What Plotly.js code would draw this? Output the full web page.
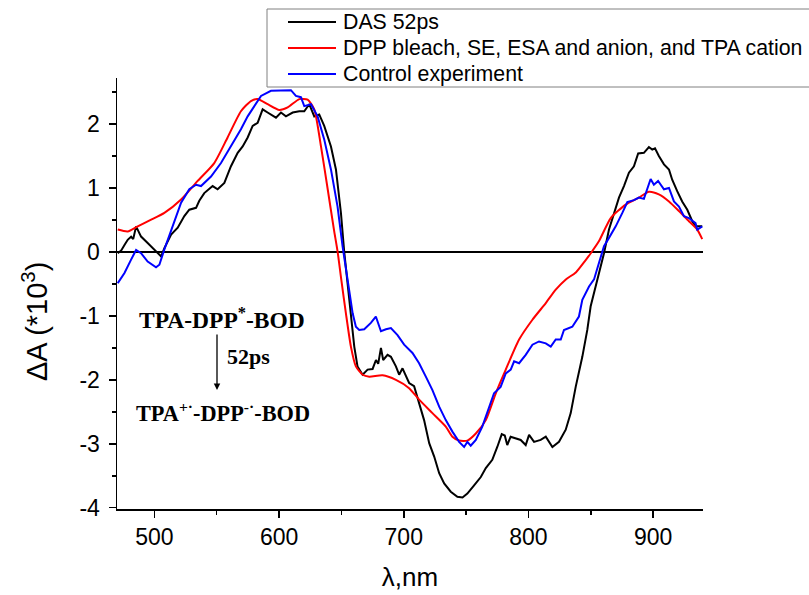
<!DOCTYPE html>
<html>
<head>
<meta charset="utf-8">
<script src="https://cdn.plot.ly/plotly-3.0.1.min.js"></script>
<style>html,body{margin:0;padding:0;background:#fff;}#chart{width:809px;height:595px;}</style>
</head>
<body>
<div id="chart"></div>
<script>
// ---- Data ----
const seriesNames = ["DAS 52ps", "DPP bleach, SE, ESA and anion, and TPA cation", "Control experiment"];

const dasX = [470.6,473.3,476,478.6,481.3,483,485.3,489.3,494.6,500,505.4,508,513.4,518.7,524,528,533.4,536,540,546.7,550.7,556.1,561.4,566.8,570.8,574.8,578.8,582.8,586.8,590.8,597.5,601.5,605.5,610.9,616.2,620.2,624.2,628.2,632.2,636.2,641.6,645.6,649.6,652.2,656.3,657.6,660.3,662.9,667,671,675,677.7,679.5,681.7,683.5,687,689.7,693.7,696.3,699,704.3,708.3,712.3,716.3,720.4,724.4,728.4,732.4,737.7,743,747.1,751,756.4,761.8,765.8,771,775,778.6,781,783,785.7,789.8,793.8,797.8,800.5,804.5,809.8,813.9,819.2,824.5,829.9,833.9,837.9,843.2,847.2,849.9,855.2,860.6,864.6,868.6,872.6,876.6,880.6,884.6,888,892.6,896.6,899.3,901.5,904.6,908.7,912.7,915.3,919.3,923.3,927.4,931.4,934,939.4];
const dasY = [-0.02,0.02,0.11,0.19,0.24,0.20,0.40,0.24,0.14,0.04,-0.07,0.06,0.27,0.38,0.56,0.66,0.69,0.80,0.92,1.03,0.98,1.08,1.34,1.55,1.65,1.79,1.97,2.02,2.23,2.18,2.10,2.18,2.12,2.18,2.20,2.20,2.31,2.12,2.15,1.97,1.65,1.29,0.61,0.01,-0.70,-0.96,-1.48,-1.79,-1.92,-1.84,-1.83,-1.69,-1.75,-1.50,-1.69,-1.61,-1.64,-1.79,-1.92,-1.82,-2.05,-2.10,-2.37,-2.63,-2.99,-3.20,-3.46,-3.62,-3.75,-3.83,-3.84,-3.78,-3.65,-3.52,-3.38,-3.25,-3.05,-2.85,-2.87,-3.02,-2.89,-2.91,-2.94,-3.02,-2.86,-2.97,-2.94,-2.89,-3.05,-2.97,-2.78,-2.52,-2.11,-1.64,-1.22,-0.85,-0.43,-0.02,0.35,0.61,0.85,1.03,1.24,1.34,1.54,1.55,1.64,1.60,1.62,1.50,1.37,1.29,1.13,0.95,0.79,0.66,0.48,0.40,0.40];

const dppX = [470.6,478.6,486.6,497,508,521.4,534.7,548,558.7,569.4,577.4,582.8,590.8,600.2,606.9,616.2,622.9,628.2,633.6,639,644,646.9,650,653.6,657.6,661.6,667,672.3,683,693.7,704.3,712.3,723,733.7,739,744.4,751,757.8,765.8,773.8,781.8,792.5,803.2,813.9,821.9,830,838,845,850,856.6,866,878,888.6,896.6,904.6,912.7,920.7,928.7,935.4,939.4];
const dppY = [0.35,0.32,0.40,0.50,0.61,0.82,1.11,1.39,1.79,2.20,2.36,2.39,2.31,2.22,2.26,2.39,2.38,2.23,1.65,0.98,0.35,0.01,-0.45,-0.96,-1.48,-1.79,-1.92,-1.95,-1.93,-2.00,-2.13,-2.31,-2.52,-2.73,-2.89,-2.95,-2.95,-2.84,-2.63,-2.21,-1.84,-1.37,-1.06,-0.80,-0.59,-0.43,-0.32,-0.15,-0.02,0.17,0.53,0.74,0.85,0.94,0.90,0.79,0.64,0.48,0.35,0.20];

const ctrlX = [470.6,476,481.3,485.3,489.3,494.6,501.3,504,508,514.7,521.4,528,533.4,537.4,545.4,553.4,561.4,569.4,574.8,580.1,585.5,593.5,601.5,609.5,613.5,617.5,620.2,625.6,630.9,636.2,641.6,646.9,650.9,656.3,659,661.6,664.3,668.3,673.6,677.6,681.7,685.7,689.7,695,700.3,707,712.3,717.7,723,728.4,733.7,739,744.4,748.4,751,753.7,757.8,763,768.4,772.4,777.7,781.8,785.8,788.5,792.5,797.8,803.2,808.5,813.9,817.9,821.9,825.9,828.5,831.2,835.2,840.5,843.2,848.6,852.6,856.6,860.6,864.6,870,875.3,879.3,884.6,888.6,892.6,895.3,898,900.6,904,908.7,912.7,916.7,920.7,924.7,928.7,934,935.4,939.4];
const ctrlY = [-0.49,-0.33,-0.12,0.03,-0.02,-0.15,-0.24,-0.20,0.04,0.40,0.77,0.98,1.05,1.03,1.18,1.39,1.65,1.92,2.12,2.28,2.44,2.52,2.52,2.53,2.44,2.42,2.28,2.31,2.12,1.76,1.29,0.71,0.09,-0.64,-0.96,-1.17,-1.22,-1.21,-1.11,-1.01,-1.24,-1.21,-1.19,-1.30,-1.45,-1.58,-1.74,-1.95,-2.16,-2.42,-2.63,-2.81,-2.97,-3.05,-2.97,-3.03,-2.94,-2.73,-2.44,-2.21,-2.11,-1.90,-1.84,-1.71,-1.74,-1.61,-1.45,-1.40,-1.43,-1.48,-1.37,-1.37,-1.22,-1.20,-1.17,-1.01,-0.75,-0.54,-0.43,-0.17,0.09,0.22,0.40,0.61,0.78,0.81,0.85,0.83,0.98,1.14,1.05,1.11,0.98,1.00,0.79,0.71,0.56,0.53,0.45,0.35,0.40];

const xTickVals = [500, 600, 700, 800, 900];
const xTickText = ["500", "600", "700", "800", "900"];
const yTickVals = [-4, -3, -2, -1, 0, 1, 2];
const yTickText = ["-4", "-3", "-2", "-1", "0", "1", "2"];

const colors = ["#000000", "#ff0000", "#0000ff"];

// ---- Layout helpers (pixel -> paper) ----
const W = 809, H = 595, M = {l: 117, r: 106, t: 78, b: 86};
const PW = W - M.l - M.r, PH = H - M.t - M.b;
const px = v => (v - M.l) / PW;
const py = v => (H - M.b - v) / PH;

const traces = [
  {x: dasX, y: dasY, name: seriesNames[0], type: "scatter", mode: "lines", line: {color: colors[0], width: 2}},
  {x: dppX, y: dppY, name: seriesNames[1], type: "scatter", mode: "lines", line: {color: colors[1], width: 2, shape: "spline", smoothing: 0.6}},
  {x: ctrlX, y: ctrlY, name: seriesNames[2], type: "scatter", mode: "lines", line: {color: colors[2], width: 2}}
];

const sans = "Liberation Sans, Arial, sans-serif";
const serif = "Liberation Serif, Times New Roman, serif";

const axisCommon = {
  showline: true, linecolor: "#000", linewidth: 1.5, mirror: false,
  ticks: "outside", ticklen: 7, tickwidth: 1.5, tickcolor: "#000",
  showgrid: false, tickfont: {family: sans, size: 23, color: "#000"}
};

// manual legend (box, sample lines, labels)
const legRows = [22, 48, 74];
const shapes = [
  {type: "rect", xref: "paper", yref: "paper", x0: px(267), x1: px(815), y0: py(87), y1: py(9),
   line: {color: "#808080", width: 1}, fillcolor: "rgba(0,0,0,0)"}
];
const annotations = [];
seriesNames.forEach((n, i) => {
  shapes.push({type: "line", xref: "paper", yref: "paper", x0: px(288), x1: px(336), y0: py(legRows[i]), y1: py(legRows[i]),
    line: {color: colors[i], width: 2}});
  annotations.push({xref: "paper", yref: "paper", x: px(341), y: py(legRows[i]), xanchor: "left", yanchor: "middle",
    text: n, showarrow: false, font: {family: sans, size: 21.3, color: "#000"}});
});

annotations.push(
  {xref: "paper", yref: "paper", x: px(35), y: py(322), textangle: -90, xanchor: "center", yanchor: "middle",
   text: "\u0394A (*10<sup>3</sup>)", showarrow: false, font: {family: sans, size: 29, color: "#000"}},
  {xref: "paper", yref: "paper", x: px(222), y: py(318), xanchor: "center", yanchor: "middle",
   text: "<b>TPA-DPP<sup>*</sup>-BOD</b>", showarrow: false, font: {family: serif, size: 23.5, color: "#000"}},
  {xref: "paper", yref: "paper", x: px(217), y: py(390), ax: px(217), ay: py(333), axref: "paper", ayref: "paper", text: "",
   showarrow: true, arrowhead: 2, arrowsize: 1, arrowwidth: 1.3, arrowcolor: "#000"},
  {xref: "paper", yref: "paper", x: px(225), y: py(356), xanchor: "left", yanchor: "middle",
   text: "<b>52ps</b>", showarrow: false, font: {family: serif, size: 22, color: "#000"}},
  {xref: "paper", yref: "paper", x: px(223), y: py(412), xanchor: "center", yanchor: "middle",
   text: "<b>TPA<sup>+\u00b7</sup>-DPP<sup>-\u00b7</sup>-BOD</b>", showarrow: false, font: {family: serif, size: 22.3, color: "#000"}}
);

const layout = {
  width: W, height: H,
  margin: M,
  paper_bgcolor: "#fff", plot_bgcolor: "#fff",
  showlegend: false,
  xaxis: Object.assign({}, axisCommon, {
    range: [470, 940], tickmode: "array", tickvals: xTickVals, ticktext: xTickText, zeroline: false,
    minor: {dtick: 50, tick0: 500, ticks: "outside", ticklen: 4, tickwidth: 1.5, tickcolor: "#000", showgrid: false},
    title: {text: "\u03bb,nm", font: {family: sans, size: 26, color: "#000"}, standoff: 18}
  }),
  yaxis: Object.assign({}, axisCommon, {
    range: [-4.02, 2.72], tickmode: "array", tickvals: yTickVals, ticktext: yTickText,
    zeroline: true, zerolinecolor: "#000", zerolinewidth: 2,
    ticklabelstandoff: 4,
    minor: {dtick: 0.5, tick0: 0, ticks: "outside", ticklen: 4, tickwidth: 1.5, tickcolor: "#000", showgrid: false}
  }),
  shapes: shapes,
  annotations: annotations
};

Plotly.newPlot("chart", traces, layout, {displayModeBar: false, staticPlot: true});
</script>
</body>
</html>
